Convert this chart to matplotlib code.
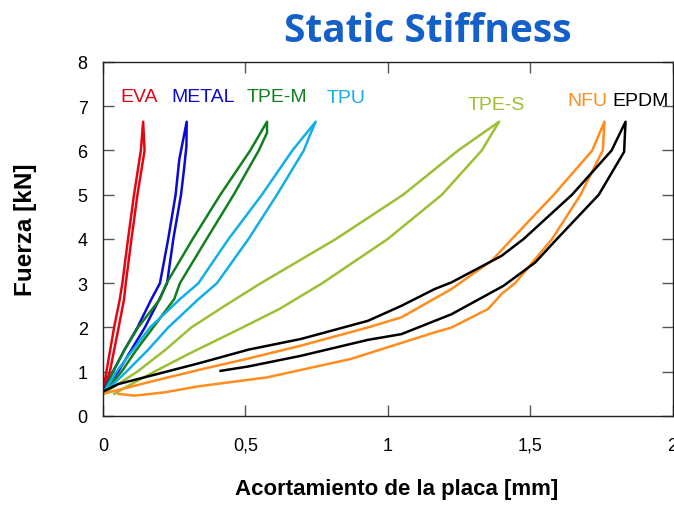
import matplotlib.pyplot as plt

# loading (upper/left) and unloading (lower/right) branches, x in mm, y in kN
eva_load_x = [0, 0.012, 0.039, 0.059, 0.068, 0.088, 0.109, 0.133, 0.141]
eva_load_y = [0.55, 1.0, 2.0, 2.64, 3.0, 4.0, 5.0, 6.0, 6.65]
eva_unload_x = [0.141, 0.146, 0.121, 0.1, 0.08, 0.074, 0.055, 0.024, 0.0]
eva_unload_y = [6.65, 6.0, 5.0, 4.0, 3.0, 2.64, 2.0, 1.0, 0.55]

metal_load_x = [0, 0.035, 0.076, 0.121, 0.17, 0.2, 0.229, 0.255, 0.268, 0.294]
metal_load_y = [0.55, 1.0, 1.5, 2.0, 2.64, 3.0, 4.0, 5.0, 5.8, 6.65]
metal_unload_x = [0.294, 0.293, 0.285, 0.274, 0.247, 0.225, 0.198, 0.147, 0.1, 0.053, 0]
metal_unload_y = [6.65, 6.1, 5.6, 5.0, 4.0, 3.0, 2.64, 2.0, 1.5, 1.0, 0.55]

tpem_load_x = [0, 0.035, 0.076, 0.123, 0.2, 0.223, 0.315, 0.412, 0.517, 0.576]
tpem_load_y = [0.5, 1.0, 1.5, 2.0, 2.64, 3.0, 4.0, 5.0, 6.0, 6.65]
tpem_unload_x = [0.576, 0.576, 0.547, 0.459, 0.364, 0.27, 0.25, 0.176, 0.118, 0.065, 0]
tpem_unload_y = [6.65, 6.4, 6.0, 5.0, 4.0, 3.0, 2.64, 2.0, 1.5, 1.0, 0.5]

tpu_load_x = [0, 0.047, 0.106, 0.165, 0.27, 0.335, 0.441, 0.558, 0.665, 0.747]
tpu_load_y = [0.5, 1.0, 1.5, 2.0, 2.64, 3.0, 4.0, 5.0, 6.0, 6.65]
tpu_unload_x = [0.747, 0.73, 0.705, 0.611, 0.511, 0.4, 0.335, 0.229, 0.159, 0.082, 0]
tpu_unload_y = [6.65, 6.4, 6.0, 5.0, 4.0, 3.0, 2.64, 2.0, 1.5, 1.0, 0.5]

tpes_load_x = [0, 0.06, 0.12, 0.22, 0.31, 0.43, 0.554, 0.818, 1.054, 1.247, 1.391]
tpes_load_y = [0.5, 0.75, 1.0, 1.5, 2.0, 2.5, 3.0, 4.0, 5.0, 6.0, 6.65]
tpes_unload_x = [1.391, 1.33, 1.19, 1.0, 0.77, 0.62, 0.49, 0.3, 0.18, 0.08, 0.04]
tpes_unload_y = [6.65, 6.0, 5.0, 4.0, 3.0, 2.42, 2.0, 1.4, 1.0, 0.65, 0.5]

nfu_load_x = [0, 0.17, 0.342, 0.511, 0.695, 0.93, 1.048, 1.224, 1.365, 1.436, 1.583, 1.718, 1.761]
nfu_load_y = [0.5, 0.78, 1.05, 1.3, 1.59, 2.0, 2.23, 2.87, 3.51, 4.0, 5.0, 6.0, 6.65]
nfu_unload_x = [1.761, 1.755, 1.677, 1.577, 1.447, 1.4, 1.353, 1.224, 1.165, 0.871,
                0.577, 0.335, 0.217, 0.112, 0.054]
nfu_unload_y = [6.65, 6.0, 5.0, 4.0, 3.0, 2.76, 2.42, 2.0, 1.89, 1.29,
                0.874, 0.67, 0.535, 0.46, 0.5]

epdm_load_x = [0, 0.053, 0.342, 0.511, 0.695, 0.93, 1.048, 1.165, 1.224, 1.4, 1.477, 1.647, 1.786, 1.835]
epdm_load_y = [0.55, 0.72, 1.2, 1.5, 1.74, 2.15, 2.49, 2.87, 3.02, 3.62, 4.0, 5.0, 6.0, 6.65]
epdm_unload_x = [1.835, 1.83, 1.741, 1.594, 1.518, 1.406, 1.224, 1.048, 0.93, 0.695, 0.511, 0.413]
epdm_unload_y = [6.65, 5.97, 5.0, 4.0, 3.47, 2.94, 2.3, 1.85, 1.72, 1.36, 1.12, 1.02]

materials = ['EVA', 'METAL', 'TPE-M', 'TPU', 'TPE-S', 'NFU', 'EPDM']
colors = ['#e30613', '#0a0ad2', '#12801e', '#12aee8', '#9cbf34', '#ff8c1e', '#000000']
label_x = [0.06, 0.24, 0.504, 0.786, 1.279, 1.632, 1.79]
label_y = [7.23, 7.23, 7.23, 7.2, 7.05, 7.12, 7.12]

curves = [
    (eva_load_x + eva_unload_x, eva_load_y + eva_unload_y),
    (metal_load_x + metal_unload_x, metal_load_y + metal_unload_y),
    (tpem_load_x + tpem_unload_x, tpem_load_y + tpem_unload_y),
    (tpu_load_x + tpu_unload_x, tpu_load_y + tpu_unload_y),
    (tpes_load_x + tpes_unload_x, tpes_load_y + tpes_unload_y),
    (nfu_load_x + nfu_unload_x, nfu_load_y + nfu_unload_y),
    (epdm_load_x + epdm_unload_x, epdm_load_y + epdm_unload_y),
]

plt.rcParams['font.family'] = ['Liberation Sans', 'DejaVu Sans']

fig = plt.figure(figsize=(6.74, 5.06), dpi=100)
ax = fig.add_axes([0.1528, 0.1759, 0.8450, 0.6996])

for (xs, ys), c in zip(curves, colors):
    ax.plot(xs, ys, color=c, lw=1.8, solid_joinstyle='round')

for name, c, lx, ly in zip(materials, colors, label_x, label_y):
    ax.text(lx, ly, name, color=c, fontsize=14, ha='left', va='center')

ax.set_xlim(0, 2)
ax.set_ylim(0, 8)
ax.set_xticks([0, 0.5, 1, 1.5, 2])
ax.set_xticklabels(['0', '0,5', '1', '1,5', '2'])
ax.set_yticks(range(9))
ax.tick_params(direction='in', length=8, width=1, color='#555555',
               top=True, right=True, labelsize=13)
ax.tick_params(axis='x', pad=15)
ax.tick_params(axis='y', pad=11)
for s in ax.spines.values():
    s.set_color('#222222')
    s.set_linewidth(1)

ax.set_xlabel('Acortamiento de la placa [mm]', fontsize=16, fontweight='bold')
ax.xaxis.set_label_coords(0.515, -0.175)
ax.set_ylabel('Fuerza [kN]', fontsize=17.5, fontweight='bold')
ax.yaxis.set_label_coords(-0.115, 0.528)

fig.text(0.635, 0.917, 'Static Stiffness', color='#1560c8', fontsize=28,
         fontweight='bold', family='Open Sans', ha='center', va='baseline')

fig.savefig('out.png', dpi=100)
